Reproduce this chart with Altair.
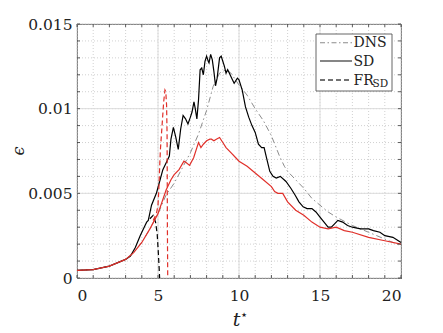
import altair as alt
import pandas as pd

# ---------------- data ----------------
t_dns = [0, 1, 2, 3, 3.5, 4, 4.5, 5, 5.5, 6, 6.5, 7, 7.5, 8, 8.4, 8.8, 9.2, 9.5, 10,
         10.5, 11, 11.5, 12, 12.5, 12.8, 13, 13.5, 14, 14.5, 15, 15.5, 16, 17, 18, 19, 20]
e_dns = [0.00045, 0.0005, 0.0007, 0.0011, 0.0015, 0.0021, 0.0029, 0.0038, 0.0049, 0.0056,
         0.0065, 0.0074, 0.0085, 0.0099, 0.0113, 0.0121, 0.0123, 0.0121, 0.0114,
         0.0108, 0.0100, 0.0093, 0.0084, 0.0072, 0.0066, 0.0063, 0.0058, 0.0053, 0.0047,
         0.0043, 0.0039, 0.0036, 0.0031, 0.0027, 0.0023, 0.0019]

t_sd = [0, 1, 2, 3, 3.3, 3.6, 3.9, 4.2, 4.3, 4.4, 4.6, 4.9, 5.1, 5.3, 5.55, 5.7, 5.8, 5.95,
        6.1, 6.25, 6.4, 6.55, 6.7, 6.85, 7.0, 7.1, 7.22, 7.3, 7.4, 7.5, 7.6, 7.7, 7.8, 7.9,
        8.0, 8.1, 8.15, 8.25, 8.35, 8.45, 8.55, 8.65, 8.8, 8.9, 9.0, 9.1, 9.2, 9.3, 9.4,
        9.55, 9.7, 9.9, 10.0, 10.2, 10.4, 10.6, 10.8, 11.0, 11.2, 11.4, 11.55, 11.7, 11.9,
        12.1, 12.3, 12.55, 12.9, 13.2, 13.46, 13.7, 13.96, 14.2, 14.5, 14.75, 15.0, 15.25,
        15.5, 15.7, 15.9, 16.1, 16.4, 16.7, 17.0, 17.5, 18.0, 18.3, 18.7, 19.0, 19.5, 20.0]
e_sd = [0.00045, 0.0005, 0.0007, 0.0011, 0.0013, 0.0018, 0.0025, 0.0031, 0.0033, 0.0034,
        0.0043, 0.0050, 0.0057, 0.0064, 0.0069, 0.0072, 0.0082, 0.0089,
        0.0083, 0.0076, 0.0088, 0.0096, 0.0094, 0.0091, 0.0095, 0.0098, 0.0104, 0.0100,
        0.0094, 0.0105, 0.0123, 0.0124, 0.0120, 0.0128,
        0.0131, 0.0128, 0.0127, 0.0132, 0.0129, 0.0122, 0.01135, 0.0118, 0.0130, 0.0131,
        0.0128, 0.0125, 0.0121, 0.0123, 0.0121,
        0.0118, 0.0115, 0.0118, 0.0117, 0.0111, 0.0101, 0.0095, 0.0090, 0.0086, 0.0079,
        0.0077, 0.0077, 0.0071, 0.0063,
        0.0060, 0.0059, 0.0060, 0.0057, 0.0053, 0.0049, 0.0045, 0.0042, 0.0041, 0.0041,
        0.0039, 0.0036, 0.0033,
        0.0030, 0.0030, 0.0032, 0.0034, 0.0033, 0.0031, 0.0030, 0.0029, 0.0029, 0.0028,
        0.0027, 0.0025, 0.0024, 0.0021]

t_sd2 = [0, 1, 2, 3, 3.5, 4, 4.5, 5, 5.5, 5.8, 6.0, 6.3, 6.6, 6.75, 6.95, 7.2, 7.4, 7.5,
         7.65, 7.8, 8.0, 8.2, 8.3, 8.45, 8.6, 8.8, 9.0, 9.2, 9.5, 9.8, 10.0, 10.5, 11.0,
         11.5, 12.0, 12.2, 12.4, 12.7, 13.0, 13.5, 14.0, 14.5, 15.0, 15.5, 16.0, 16.5,
         17, 18, 19, 20]
e_sd2 = [0.00045, 0.0005, 0.0007, 0.0011, 0.0015, 0.0021, 0.0029, 0.0038, 0.0052, 0.0058,
         0.0061, 0.0064, 0.0069, 0.0068, 0.00665, 0.0071, 0.0077, 0.0080,
         0.0077, 0.0079, 0.0081, 0.0082, 0.0082, 0.0081, 0.0082, 0.0083, 0.0080, 0.0077,
         0.0074, 0.0071, 0.0069, 0.0066, 0.0062,
         0.0058, 0.0054, 0.0051, 0.0050, 0.0050, 0.0045, 0.0040, 0.0037, 0.0033, 0.0030,
         0.0029, 0.0030, 0.0028, 0.0027, 0.0024, 0.0022, 0.0020]

t_fr = [4.5, 4.7, 4.85, 4.95, 5.02, 5.07, 5.1]
e_fr = [0.0035, 0.0037, 0.0033, 0.0026, 0.0015, 0.0006, 0.0]

t_fr2 = [4.7, 4.9, 5.0, 5.05, 5.1, 5.15, 5.25, 5.35, 5.43, 5.48, 5.53, 5.56, 5.57, 5.58, 5.6]
e_fr2 = [0.0034, 0.0038, 0.0043, 0.0052, 0.0065, 0.0076, 0.0090, 0.0104, 0.0111, 0.0110,
         0.0102, 0.0085, 0.0060, 0.0030, 0.0]

x_major = [0, 5, 10, 15, 20]
y_major = [0, 0.005, 0.01, 0.015]
x_minor = list(range(0, 21))
y_minor = [i / 1000 for i in range(0, 16)]

legend_labels = ["DNS", "SD", "FR"]

# ---------------- chart ----------------
W, H = 324, 254
FONT = "DejaVu Serif"
RED = "#e0302a"
GRAY = "#8c8c8c"

xs = alt.Scale(domain=[0, 20], nice=False, zero=False)
ys = alt.Scale(domain=[0, 0.015], nice=False, zero=False)

XAX = alt.Axis(values=x_major, title=None, domain=False, ticks=False, grid=False,
               labelPadding=10)
YAX = alt.Axis(values=y_major, title=None, domain=False, ticks=False, grid=False,
               labelPadding=5, format=".3~f")


def X(field):
    return alt.X(field, scale=xs, axis=XAX)


def Y(field):
    return alt.Y(field, scale=ys, axis=YAX)


def line(t, e, color, width, dash=None):
    df = pd.DataFrame({"t": t, "e": e})
    kw = dict(color=color, strokeWidth=width, clip=True)
    if dash:
        kw["strokeDash"] = dash
    return alt.Chart(df).mark_line(**kw).encode(x=X("t:Q"), y=Y("e:Q"))


dxm = pd.DataFrame({"v": x_minor})
dym = pd.DataFrame({"v": y_minor})
dxM = pd.DataFrame({"v": x_major})
dyM = pd.DataFrame({"v": y_major})

gx_minor = alt.Chart(dxm).mark_rule(color="#bdbdbd", strokeWidth=0.7, strokeDash=[1, 2]).encode(
    x=X("v:Q"))
gy_minor = alt.Chart(dym).mark_rule(color="#bdbdbd", strokeWidth=0.7, strokeDash=[1, 2]).encode(
    y=Y("v:Q"))
gx_major = alt.Chart(dxM).mark_rule(color="#dcdcdc", strokeWidth=1).encode(x=X("v:Q"))
gy_major = alt.Chart(dyM).mark_rule(color="#dcdcdc", strokeWidth=1).encode(y=Y("v:Q"))

# inward ticks on all four sides
tick_col = "#333"
ticks = [
    alt.Chart(dxm).mark_rule(color=tick_col, strokeWidth=0.8).encode(
        x=X("v:Q"), y=alt.value(H), y2=alt.value(H - 3)),
    alt.Chart(dxm).mark_rule(color=tick_col, strokeWidth=0.8).encode(
        x=X("v:Q"), y=alt.value(0), y2=alt.value(3)),
    alt.Chart(dym).mark_rule(color=tick_col, strokeWidth=0.8).encode(
        y=Y("v:Q"), x=alt.value(0), x2=alt.value(3)),
    alt.Chart(dym).mark_rule(color=tick_col, strokeWidth=0.8).encode(
        y=Y("v:Q"), x=alt.value(W), x2=alt.value(W - 3)),
]

one = pd.DataFrame({"a": [0]})

# legend box
lx0, lx1, ly0, ly1 = 239, 315, 10, 67
leg_box = alt.Chart(one).mark_rect(fill="white", stroke="#555", strokeWidth=0.9).encode(
    x=alt.value(lx0), x2=alt.value(lx1), y=alt.value(ly0), y2=alt.value(ly1))
rows = [18.7, 37, 56]
leg_lines = [
    alt.Chart(one).mark_rule(color=GRAY, strokeWidth=1.1, strokeDash=[5, 2.5, 1.5, 2.5]).encode(
        x=alt.value(243), x2=alt.value(275), y=alt.value(rows[0])),
    alt.Chart(one).mark_rule(color="#444", strokeWidth=1.3).encode(
        x=alt.value(243), x2=alt.value(275), y=alt.value(rows[1])),
    alt.Chart(one).mark_rule(color="#444", strokeWidth=1.3, strokeDash=[5, 3]).encode(
        x=alt.value(243), x2=alt.value(275), y=alt.value(rows[2])),
]
leg_text = [
    alt.Chart(one).mark_text(text=legend_labels[i], font=FONT, fontSize=14, align="left",
                             baseline="middle", color="#222").encode(
        x=alt.value(276.5), y=alt.value(rows[i] + 0.5))
    for i in range(3)
]
leg_sub = alt.Chart(one).mark_text(text="SD", font=FONT, fontSize=10.5, align="left",
                                   baseline="middle", color="#222").encode(
    x=alt.value(295.5), y=alt.value(rows[2] + 3.5))

# axis titles
xt = alt.Chart(one).mark_text(text="t", font=FONT, fontSize=19, fontStyle="italic",
                              align="center", baseline="alphabetic", color="#222").encode(
    x=alt.value(159.5), y=alt.value(302))
xstar = alt.Chart(one).mark_text(text="⋆", font="DejaVu Sans", fontSize=13,
                                 align="center", baseline="middle", color="#222").encode(
    x=alt.value(167), y=alt.value(291))
yt = alt.Chart(one).mark_text(text="ϵ", font=FONT, fontSize=16, fontStyle="italic",
                              angle=270, align="center", baseline="middle", color="#222").encode(
    x=alt.value(-58), y=alt.value(127))

chart = alt.layer(
    gx_minor, gy_minor, gx_major, gy_major,
    line(t_dns, e_dns, GRAY, 1.0, [6, 3, 1.5, 3]),
    line(t_sd, e_sd, "black", 1.2),
    line(t_fr, e_fr, "black", 1.2, [5, 3]),
    line(t_sd2, e_sd2, RED, 1.2),
    line(t_fr2, e_fr2, RED, 1.2, [5, 3]),
    *ticks,
    leg_box, *leg_lines, *leg_text, leg_sub,
    xt, xstar, yt,
).properties(
    width=W, height=H,
    autosize=alt.AutoSizeParams(type="none"),
    padding={"left": 69, "top": 16, "right": 34, "bottom": 54},
).configure_view(
    stroke="#333", strokeWidth=1
).configure_axis(
    labelFont=FONT, labelFontSize=15.5, labelColor="#222"
)

chart.save("out.html", embed_options={"renderer": "svg", "actions": False})
